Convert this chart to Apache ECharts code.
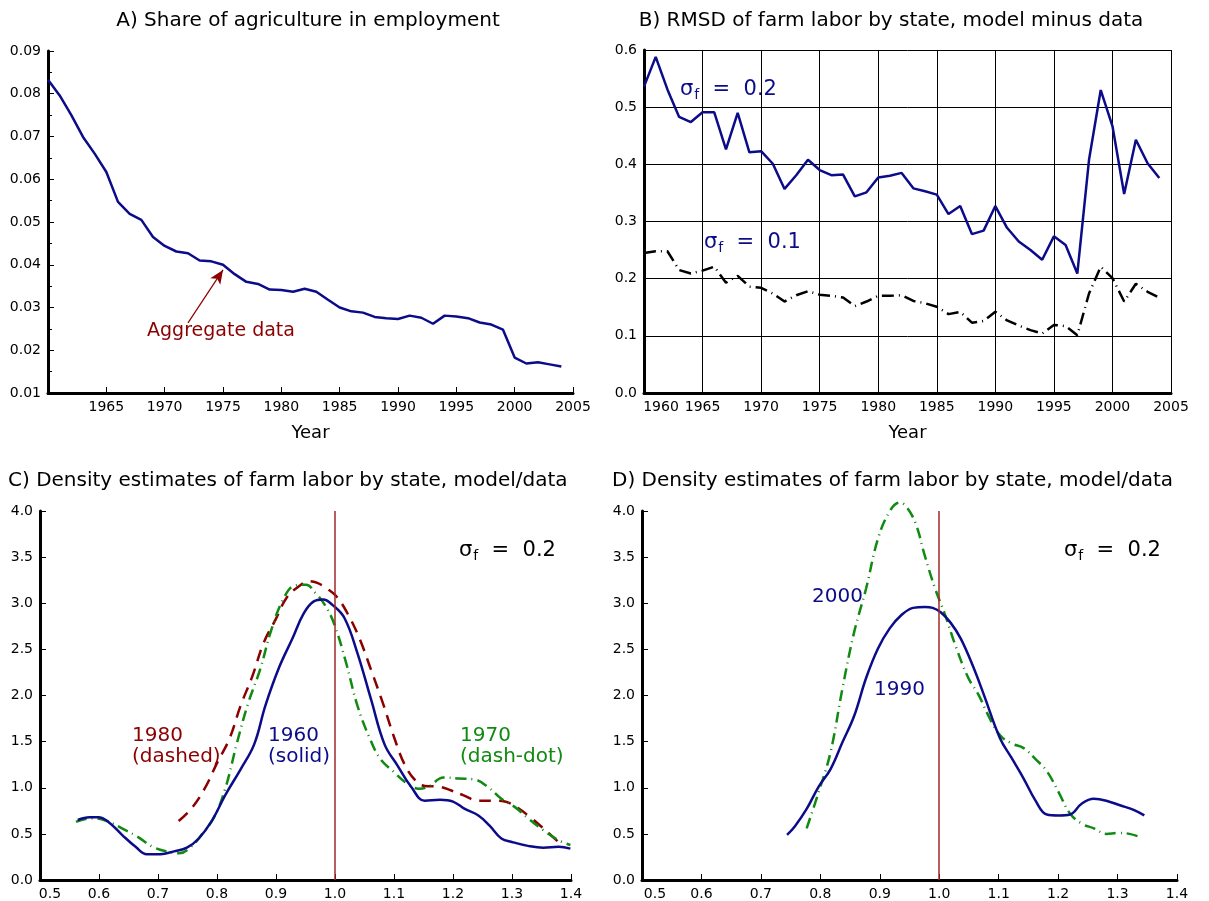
<!DOCTYPE html>
<html>
<head>
<meta charset="utf-8">
<script src="https://cdn.jsdelivr.net/npm/echarts@6/dist/echarts.min.js"></script>
<style>html,body{margin:0;background:#fff}#chart{width:1209px;height:901px}</style>
</head>
<body>
<div id="chart"></div>
<script>
// 年份
var years = [1960,1961,1962,1963,1964,1965,1966,1967,1968,1969,1970,1971,1972,1973,1974,1975,1976,1977,1978,1979,
  1980,1981,1982,1983,1984,1985,1986,1987,1988,1989,1990,1991,1992,1993,1994,1995,1996,1997,1998,1999,2000,2001,2002,2003,2004];

// A) 农业就业占比
var aggShare = [0.0833,0.0796,0.0750,0.0699,0.0660,0.0617,0.0547,0.0519,0.0505,0.0465,0.0444,0.0431,0.0427,0.0410,0.0408,0.0400,
  0.0378,0.0360,0.0355,0.0342,0.0341,0.0337,0.0344,0.0337,0.0318,0.0300,0.0291,0.0288,0.0278,0.0275,0.0273,0.0281,0.0276,0.0262,
  0.0281,0.0279,0.0275,0.0265,0.0260,0.0248,0.0183,0.0169,0.0172,0.0167,0.0162];

// B) RMSD
var rmsd02 = [0.536,0.588,0.531,0.483,0.474,0.491,0.491,0.426,0.490,0.421,0.423,0.401,0.357,0.381,0.408,0.390,0.381,0.382,0.344,0.351,
  0.377,0.380,0.385,0.358,0.353,0.347,0.313,0.327,0.278,0.284,0.327,0.289,0.265,0.250,0.233,0.274,0.259,0.209,0.408,0.530,
  0.467,0.348,0.443,0.402,0.376];
var rmsd01 = [0.245,0.248,0.248,0.215,0.209,0.214,0.221,0.193,0.205,0.186,0.184,0.174,0.160,0.171,0.178,0.172,0.170,0.167,0.152,0.160,
  0.170,0.170,0.171,0.161,0.157,0.151,0.138,0.142,0.123,0.126,0.142,0.127,0.118,0.110,0.104,0.119,0.117,0.101,0.174,0.221,
  0.201,0.160,0.191,0.177,0.167];

// C) 密度估计 1960 / 1970 / 1980
var c1960X = [0.564,0.584,0.599,0.616,0.639,0.662,0.681,0.704,0.727,0.749,0.769,0.792,0.814,0.840,0.863,0.882,0.905,0.928,0.947,0.964,
  0.980,0.996,1.016,1.038,1.061,1.084,1.106,1.129,1.152,1.178,1.200,1.220,1.243,1.262,1.282,1.301,1.327,1.353,1.379,1.399];
var c1960Y = [0.65,0.68,0.68,0.63,0.49,0.36,0.28,0.28,0.31,0.35,0.45,0.65,0.92,1.20,1.47,1.89,2.30,2.62,2.89,3.02,
  3.04,2.98,2.84,2.46,1.96,1.47,1.24,1.01,0.86,0.87,0.85,0.77,0.70,0.59,0.45,0.41,0.37,0.35,0.36,0.34];
var c1970X = [0.561,0.587,0.613,0.639,0.665,0.691,0.714,0.736,0.756,0.775,0.795,0.814,0.834,0.853,0.873,0.892,0.912,0.931,0.951,0.967,
  0.983,0.999,1.019,1.038,1.058,1.077,1.100,1.119,1.142,1.158,1.184,1.210,1.236,1.259,1.282,1.305,1.327,1.353,1.379,1.399];
var c1970Y = [0.63,0.67,0.64,0.56,0.47,0.36,0.31,0.29,0.36,0.50,0.68,0.99,1.49,1.92,2.28,2.71,3.04,3.19,3.20,3.11,
  2.98,2.77,2.35,1.89,1.55,1.31,1.17,1.06,0.99,1.01,1.11,1.10,1.09,1.01,0.88,0.79,0.67,0.54,0.43,0.38];
var c1980X = [0.735,0.756,0.779,0.801,0.821,0.840,0.860,0.879,0.899,0.918,0.938,0.957,0.970,0.986,1.003,1.022,1.042,1.061,1.081,1.100,
  1.119,1.139,1.152,1.178,1.197,1.217,1.243,1.269,1.288,1.308,1.331,1.353,1.379];
var c1980Y = [0.64,0.77,0.99,1.28,1.53,1.89,2.21,2.57,2.82,3.06,3.18,3.24,3.22,3.16,3.07,2.88,2.61,2.28,1.92,1.55,
  1.24,1.06,1.02,1.01,0.97,0.92,0.86,0.86,0.85,0.79,0.68,0.56,0.41];

// D) 密度估计 1990 / 2000
var d1990X = [0.744,0.757,0.777,0.797,0.817,0.837,0.857,0.877,0.897,0.917,0.936,0.956,0.976,0.989,1.003,1.019,1.036,1.056,1.075,1.102,
  1.122,1.142,1.162,1.181,1.201,1.220,1.240,1.260,1.281,1.304,1.327,1.345];
var d1990Y = [0.49,0.58,0.77,1.01,1.20,1.49,1.78,2.19,2.51,2.73,2.87,2.95,2.96,2.95,2.90,2.79,2.62,2.33,2.01,1.54,
  1.32,1.10,0.86,0.71,0.70,0.71,0.83,0.88,0.86,0.81,0.76,0.70];
var d2000X = [0.777,0.797,0.817,0.837,0.857,0.877,0.897,0.917,0.933,0.943,0.960,0.976,0.993,1.009,1.029,1.049,1.066,1.082,1.102,1.122,
  1.142,1.162,1.181,1.201,1.220,1.240,1.260,1.281,1.301,1.320,1.340];
var d2000Y = [0.56,0.95,1.38,2.07,2.69,3.16,3.70,4.00,4.09,4.06,3.87,3.51,3.16,2.89,2.51,2.19,2.01,1.79,1.57,1.48,
  1.43,1.31,1.18,0.95,0.72,0.61,0.56,0.50,0.51,0.50,0.46];

var navy = '#0c0c8a', dred = '#8b0000', green = '#108a10', vline = '#a02828';
var FONT = 'DejaVu Sans';

function zip(xs, ys) { return xs.map(function (x, i) { return [x, ys[i]]; }); }

var myChart = echarts.init(document.getElementById('chart'));

var axisLine = {show: true, onZero: false, lineStyle: {color: '#000', width: 3}};
var tick = {show: true, inside: true, length: 6, lineStyle: {color: '#000', width: 1}};
var lbl = {color: '#000', fontSize: 14, fontFamily: FONT, margin: 7};

function fixed(n) { return function (v) { return v.toFixed(n); }; }
// 第一个刻度标签右移，避免与纵轴重叠
function shiftFirst(min, n, pad) {
  return {
    color: '#000', fontSize: 14, fontFamily: FONT, margin: 7,
    formatter: function (v) { return v === min ? '{m|' + v.toFixed(n) + '}' : v.toFixed(n); },
    rich: {m: {fontSize: 14, fontFamily: FONT, color: '#000', padding: [0, 0, 0, pad]}}
  };
}

var sigma = function (rest, color) {
  return {
    text: '{s|σ}{f|f}{s|' + rest + '}',
    verticalAlign: 'middle',
    rich: {
      s: {font: '21px ' + FONT, fill: color},
      f: {font: '14px ' + FONT, fill: color, padding: [10, 0, 0, 1]}
    }
  };
};

function txt(x, y, text, color, align, size) {
  return {type: 'text', x: x, y: y, silent: true,
    style: {text: text, fill: color, font: (size || 20) + 'px ' + FONT, align: align || 'left', verticalAlign: 'middle'}};
}

option = {
  animation: false,
  backgroundColor: '#fff',
  grid: [
    {left: 48, top: 51, width: 525, height: 342},
    {left: 644, top: 50, width: 527, height: 343},
    {left: 40, top: 511, width: 531, height: 371},
    {left: 642, top: 511, width: 535, height: 371}
  ],
  xAxis: [
    {gridIndex: 0, type: 'value', min: 1960, max: 2005, interval: 5, axisLine: axisLine, axisTick: tick,
      axisLabel: Object.assign({}, lbl, {showMinLabel: false, formatter: function (v) { return String(v); }}),
      splitLine: {show: false},
      name: 'Year', nameLocation: 'middle', nameGap: 31, nameTextStyle: {color: '#000', fontSize: 18, fontFamily: FONT}},
    {gridIndex: 1, type: 'value', min: 1960, max: 2005, interval: 5, axisLine: axisLine, axisTick: {show: false},
      axisLabel: shiftFirst(1960, 0, 34), splitLine: {show: true, lineStyle: {color: '#000', width: 1}},
      name: 'Year', nameLocation: 'middle', nameGap: 31, nameTextStyle: {color: '#000', fontSize: 18, fontFamily: FONT}},
    {gridIndex: 2, type: 'value', min: 0.5, max: 1.4, interval: 0.1, axisLine: axisLine, axisTick: tick,
      axisLabel: shiftFirst(0.5, 1, 20), splitLine: {show: false}},
    {gridIndex: 3, type: 'value', min: 0.5, max: 1.4, interval: 0.1, axisLine: axisLine, axisTick: tick,
      axisLabel: shiftFirst(0.5, 1, 26), splitLine: {show: false}}
  ],
  yAxis: [
    {gridIndex: 0, type: 'value', min: 0.01, max: 0.09, interval: 0.01, axisLine: axisLine, axisTick: tick,
      minorTick: {show: true, splitNumber: 2, length: 4, lineStyle: {color: '#000'}},
      axisLabel: Object.assign({}, lbl, {formatter: fixed(2)}), splitLine: {show: false}},
    {gridIndex: 1, type: 'value', min: 0, max: 0.6, interval: 0.1, axisLine: axisLine, axisTick: {show: false},
      axisLabel: Object.assign({}, lbl, {formatter: fixed(1)}), splitLine: {show: true, lineStyle: {color: '#000', width: 1}}},
    {gridIndex: 2, type: 'value', min: 0, max: 4, interval: 0.5, axisLine: axisLine, axisTick: tick,
      axisLabel: Object.assign({}, lbl, {formatter: fixed(1)}), splitLine: {show: false}},
    {gridIndex: 3, type: 'value', min: 0, max: 4, interval: 0.5, axisLine: axisLine, axisTick: tick,
      axisLabel: Object.assign({}, lbl, {formatter: fixed(1)}), splitLine: {show: false}}
  ],
  series: [
    {type: 'line', xAxisIndex: 0, yAxisIndex: 0, data: zip(years, aggShare), showSymbol: false,
      lineStyle: {color: navy, width: 2.5},
      markLine: {silent: true, symbol: ['none', 'arrow'], symbolSize: [9, 14],
        lineStyle: {color: dred, width: 1.2, type: 'solid'}, label: {show: false},
        data: [[{coord: [1972.0, 0.0264]}, {coord: [1975.0, 0.0388]}]]}},
    {type: 'line', xAxisIndex: 1, yAxisIndex: 1, data: zip(years, rmsd02), showSymbol: false,
      lineStyle: {color: navy, width: 2.5}},
    {type: 'line', xAxisIndex: 1, yAxisIndex: 1, data: zip(years, rmsd01), showSymbol: false,
      lineStyle: {color: '#000', width: 2.5, type: [12, 5, 1, 5]}},
    {type: 'line', xAxisIndex: 2, yAxisIndex: 2, data: zip(c1980X, c1980Y), showSymbol: false, smooth: 0.4,
      lineStyle: {color: dred, width: 2.5, type: [12, 8]}},
    {type: 'line', xAxisIndex: 2, yAxisIndex: 2, data: zip(c1970X, c1970Y), showSymbol: false, smooth: 0.4,
      lineStyle: {color: green, width: 2.5, type: [11, 5, 1, 5]}},
    {type: 'line', xAxisIndex: 2, yAxisIndex: 2, data: zip(c1960X, c1960Y), showSymbol: false, smooth: 0.4,
      lineStyle: {color: navy, width: 2.5},
      markLine: {silent: true, symbol: 'none', label: {show: false},
        lineStyle: {color: vline, width: 1.5, type: 'solid', opacity: 1},
        emphasis: {disabled: true},
        data: [{xAxis: 1.0, lineStyle: {color: vline}}]}},
    {type: 'line', xAxisIndex: 3, yAxisIndex: 3, data: zip(d2000X, d2000Y), showSymbol: false, smooth: 0.4, clip: false,
      lineStyle: {color: green, width: 2.5, type: [11, 5, 1, 5]}},
    {type: 'line', xAxisIndex: 3, yAxisIndex: 3, data: zip(d1990X, d1990Y), showSymbol: false, smooth: 0.4,
      lineStyle: {color: navy, width: 2.5},
      markLine: {silent: true, symbol: 'none', label: {show: false},
        lineStyle: {color: vline, width: 1.5, type: 'solid', opacity: 1},
        emphasis: {disabled: true},
        data: [{xAxis: 1.0, lineStyle: {color: vline}}]}}
  ],
  graphic: [
    txt(308, 21, 'A) Share of agriculture in employment', '#000', 'center'),
    txt(891, 21, 'B) RMSD of farm labor by state, model minus data', '#000', 'center'),
    txt(8, 481, 'C) Density estimates of farm labor by state, model/data', '#000', 'left'),
    txt(612, 481, 'D) Density estimates of farm labor by state, model/data', '#000', 'left'),
    txt(221, 331, 'Aggregate data', dred, 'center', 19),
    {type: 'text', x: 680, y: 90, silent: true, style: sigma('  =  0.2', navy)},
    {type: 'text', x: 704, y: 243, silent: true, style: sigma('  =  0.1', navy)},
    {type: 'text', x: 459, y: 551, silent: true, style: sigma('  =  0.2', '#000')},
    {type: 'text', x: 1064, y: 551, silent: true, style: sigma('  =  0.2', '#000')},
    txt(132, 736, '1980', dred), txt(132, 757, '(dashed)', dred),
    txt(268, 736, '1960', navy), txt(268, 757, '(solid)', navy),
    txt(460, 736, '1970', green), txt(460, 757, '(dash-dot)', green),
    txt(812, 597, '2000', navy),
    txt(874, 690, '1990', navy)
  ]
};
myChart.setOption(option);
</script>
</body>
</html>
